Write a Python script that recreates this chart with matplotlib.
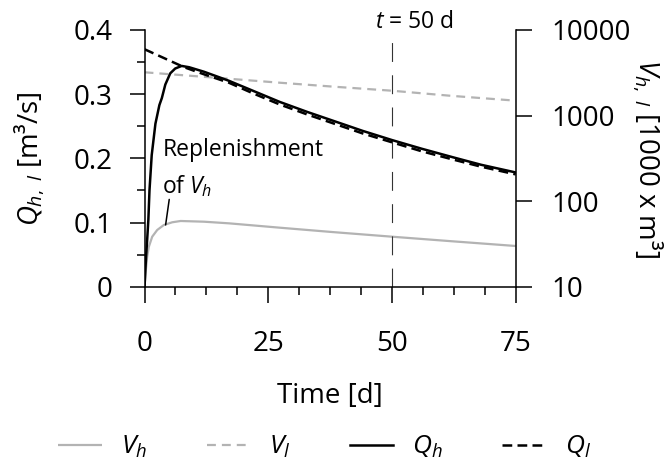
import matplotlib
matplotlib.use("Agg")
import matplotlib.pyplot as plt
from matplotlib.ticker import FixedLocator, FixedFormatter, NullLocator

plt.rcParams['font.family'] = ['Open Sans', 'DejaVu Sans']
plt.rcParams['mathtext.fontset'] = 'custom'
plt.rcParams['mathtext.it'] = 'Open Sans:italic'
plt.rcParams['mathtext.rm'] = 'Open Sans'

# ---- data ----
t_qh = [0, 0.3, 0.53, 0.77, 1.0, 1.45, 2.2, 3.0, 3.5, 4.2, 5.2, 6.2, 7.5, 9, 12, 17, 22, 27.3, 33, 38.7, 44, 50, 56, 62.4, 68, 75]
q_h = [0, 0.045, 0.073, 0.104, 0.15, 0.205, 0.254, 0.283, 0.294, 0.315, 0.3325, 0.340, 0.344, 0.342, 0.335, 0.321, 0.305, 0.288, 0.272, 0.257, 0.243, 0.2285, 0.215, 0.2015, 0.190, 0.178]

t_ql = [0, 2, 4, 6, 8, 12, 17, 22, 27.3, 33, 38.7, 44, 50, 56, 62.4, 68, 75]
q_l = [0.370, 0.363, 0.356, 0.349, 0.342, 0.331, 0.318, 0.301, 0.284, 0.268, 0.253, 0.239, 0.225, 0.211, 0.198, 0.187, 0.175]

t_vh = [0, 0.2, 0.53, 0.87, 1.55, 2.56, 3.9, 5.6, 7.3, 12, 17.1, 27.2, 38, 50, 62, 75]
v_h = [10, 14.3, 22.4, 29.3, 38.4, 46, 52.6, 56.6, 58.6, 57.5, 55, 49, 43.5, 38.4, 34, 29.9]

t_vl = [0, 13.3, 27.3, 38, 50, 62, 75]
v_l = [3205, 2800, 2421, 2180, 1951, 1700, 1493]

x_ticks = [0, 25, 50, 75]
x_minor = [6.25, 12.5, 18.75, 31.25, 37.5, 43.75, 56.25, 62.5, 68.75]
q_ticks = [0, 0.1, 0.2, 0.3, 0.4]
q_ticklabels = ['0', '0.1', '0.2', '0.3', '0.4']
q_minor = [0.05, 0.15, 0.25, 0.35]
v_ticks = [10, 100, 1000, 10000]
v_ticklabels = ['10', '100', '1000', '10000']
marker_day = 50

labels = ['$V_h$', '$V_l$', '$Q_h$', '$Q_l$']

GRAY = '#b3b3b3'

fig = plt.figure(figsize=(6.71, 4.68), dpi=100)
ax = fig.add_axes([0.2154, 0.3874, 0.5532, 0.5485])
ax2 = ax.twinx()
ax.set_zorder(ax2.get_zorder() + 1)
ax.patch.set_visible(False)
ax2.patch.set_visible(False)

lvh, = ax2.plot(t_vh, v_h, color=GRAY, lw=1.6, solid_capstyle='butt')
lvl, = ax2.plot(t_vl, v_l, color=GRAY, lw=1.6, dashes=(4.0, 2.7))
lqh, = ax.plot(t_qh, q_h, color='black', lw=1.8)
lql, = ax.plot(t_ql, q_l, color='black', lw=1.8, dashes=(3.9, 2.1))

ax.axvline(marker_day, color='#333333', lw=0.8, dashes=(17, 12), zorder=0)

ax.set_xlim(0, 75)
ax.set_ylim(0, 0.4)
ax2.set_yscale('log')
ax2.set_ylim(10, 10000)

ax.xaxis.set_major_locator(FixedLocator(x_ticks))
ax.xaxis.set_minor_locator(FixedLocator(x_minor))
ax.yaxis.set_major_locator(FixedLocator(q_ticks))
ax.yaxis.set_major_formatter(FixedFormatter(q_ticklabels))
ax.yaxis.set_minor_locator(FixedLocator(q_minor))
ax2.yaxis.set_major_locator(FixedLocator(v_ticks))
ax2.yaxis.set_major_formatter(FixedFormatter(v_ticklabels))
ax2.yaxis.set_minor_locator(NullLocator())

for a in (ax, ax2):
    a.spines['top'].set_visible(False)
    for s in a.spines.values():
        s.set_linewidth(1.1)
ax.spines['right'].set_visible(False)
ax2.spines['left'].set_visible(False)
ax2.spines['bottom'].set_visible(False)

ax.tick_params(axis='x', which='major', direction='out', length=11.5, width=1.1, pad=20, labelsize=20)
ax.tick_params(axis='x', which='minor', direction='out', length=6, width=1.1)
ax.tick_params(axis='y', which='major', direction='out', length=11, width=1.1, pad=12, labelsize=20)
ax.tick_params(axis='y', which='minor', direction='out', length=5.5, width=1.1)
ax2.tick_params(axis='y', which='major', direction='out', length=11.5, width=1.1, pad=14, labelsize=20)

ax.set_xlabel('Time [d]', fontsize=20)
ax.xaxis.set_label_coords(0.5, -0.37)
ax.set_ylabel('$Q_{h,\\ l}$ [m³/s]', fontsize=20)
ax.yaxis.set_label_coords(-0.265, 0.5)
ax2.set_ylabel('$V_{h,\\ l}$ [1000 x m³]', fontsize=20, rotation=-90, va='bottom')
ax2.yaxis.set_label_coords(1.31, 0.5)

ax.text(46.6, 1.031, '$t$ = 50 d', transform=ax.get_xaxis_transform(),
        ha='left', va='center', fontsize=16.5)

ax.annotate('', xy=(4.26, 0.0963), xytext=(4.99, 0.136),
            arrowprops=dict(arrowstyle='-', color='black', lw=1.1, shrinkA=0, shrinkB=0))
ax.text(3.6, 0.232, 'Replenishment\nof $V_h$', ha='left', va='top', fontsize=16.5, linespacing=1.55)

fig.legend([lvh, lvl, lqh, lql], labels, loc='center', bbox_to_anchor=(0.484, 0.045),
           ncol=4, frameon=False, fontsize=19, handlelength=1.65, handletextpad=0.72,
           columnspacing=2.25)

fig.savefig('out.png', dpi=100)
